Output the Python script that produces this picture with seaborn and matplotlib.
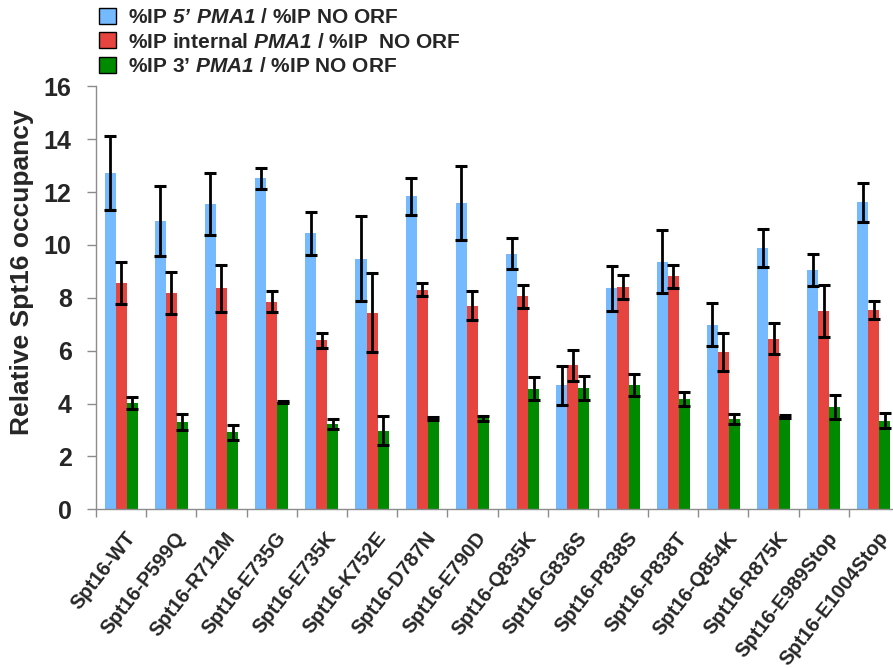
import matplotlib
matplotlib.use("Agg")
import numpy as np
import pandas as pd
import seaborn as sns
import matplotlib.pyplot as plt
import matplotlib.transforms as mtransforms
from matplotlib.patches import Patch

strains = [
    "Spt16-WT", "Spt16-P599Q", "Spt16-R712M", "Spt16-E735G",
    "Spt16-E735K", "Spt16-K752E", "Spt16-D787N", "Spt16-E790D",
    "Spt16-Q835K", "Spt16-G836S", "Spt16-P838S", "Spt16-P838T",
    "Spt16-Q854K", "Spt16-R875K", "Spt16-E989Stop", "Spt16-E1004Stop",
]

five_prime = [12.71, 10.91, 11.56, 12.53, 10.44, 9.48, 11.85, 11.59,
              9.67, 4.69, 8.36, 9.37, 6.99, 9.89, 9.04, 11.61]
five_prime_err = [1.40, 1.33, 1.17, 0.40, 0.80, 1.60, 0.70, 1.40,
                  0.58, 0.73, 0.85, 1.20, 0.82, 0.72, 0.61, 0.73]

internal = [8.55, 8.18, 8.36, 7.86, 6.39, 7.44, 8.31, 7.70,
            8.06, 5.45, 8.42, 8.81, 5.96, 6.46, 7.50, 7.54]
internal_err = [0.79, 0.79, 0.90, 0.40, 0.27, 1.50, 0.25, 0.55,
                0.43, 0.58, 0.45, 0.45, 0.72, 0.58, 0.97, 0.35]

three_prime = [4.01, 3.30, 2.91, 4.06, 3.23, 2.98, 3.44, 3.44,
               4.56, 4.59, 4.70, 4.17, 3.42, 3.52, 3.87, 3.35]
three_prime_err = [0.22, 0.30, 0.27, 0.05, 0.20, 0.55, 0.05, 0.10,
                   0.43, 0.47, 0.43, 0.27, 0.19, 0.05, 0.46, 0.28]

series_labels = [
    "%IP $\\mathsf{5’\\ PMA1}$ / %IP NO ORF",
    "%IP internal $\\mathsf{PMA1}$ / %IP  NO ORF",
    "%IP 3’ $\\mathsf{PMA1}$ / %IP NO ORF",
]
colours = ["#75B9FF", "#E5443F", "#008A00"]


def build_frame():
    rows = []
    for label, vals in zip(series_labels, [five_prime, internal, three_prime]):
        for s, v in zip(strains, vals):
            rows.append({"strain": s, "series": label, "value": v})
    return pd.DataFrame(rows)


if __name__ == "__main__":
    sns.set_style("white")
    plt.rcParams["font.family"] = ["Liberation Sans", "DejaVu Sans"]
    plt.rcParams["font.weight"] = "bold"
    plt.rcParams["axes.labelweight"] = "bold"
    plt.rcParams["mathtext.fontset"] = "custom"
    plt.rcParams["mathtext.rm"] = "Liberation Sans:bold"
    plt.rcParams["mathtext.sf"] = "Liberation Sans:italic:bold"

    data = build_frame()

    fig = plt.figure(figsize=(8.93, 6.68), dpi=100)
    ax = fig.add_axes([96 / 893, 1 - 509.3 / 668, 1 - 96 / 893, (509.3 - 86.4) / 668])

    sns.barplot(
        data=data, x="strain", y="value", hue="series",
        palette=colours, width=0.66, saturation=1, linewidth=0,
        errorbar=None, legend=False, ax=ax,
    )

    errs = [five_prime_err, internal_err, three_prime_err]
    for container, err in zip(ax.containers, errs):
        xs = [p.get_x() + p.get_width() / 2 for p in container]
        ys = [p.get_height() for p in container]
        ax.errorbar(xs, ys, yerr=err, fmt="none", ecolor="black",
                    elinewidth=2, capsize=4.3, capthick=2.2, zorder=5)

    ax.set_ylim(0, 16)
    ax.set_xlim(-0.5, 15.38)
    ax.set_yticks(range(0, 17, 2))
    ax.tick_params(axis="y", labelsize=18, length=6.5, width=1,
                   color="#8c8c8c", direction="out", left=True, pad=11)
    ax.set_xticks(np.arange(16) - 0.5)
    ax.set_xticklabels([""] * 16)
    ax.set_xticks(np.arange(16), minor=True)
    ax.set_xticklabels(strains, minor=True, rotation=52, ha="right",
                       rotation_mode="anchor", fontsize=14.5)
    ax.tick_params(axis="x", which="major", length=6, width=1,
                   color="#8c8c8c", direction="out", bottom=True)
    ax.tick_params(axis="x", which="minor", length=0, pad=14)
    shift = mtransforms.ScaledTranslation(3 / 100, 0, fig.dpi_scale_trans)
    for lab in ax.get_xticklabels(minor=True):
        lab.set_transform(lab.get_transform() + shift)

    ax.set_xlabel("")
    ax.set_ylabel("Relative Spt16 occupancy", fontsize=19)
    ax.yaxis.set_label_coords(-0.078, 0.561)

    for side in ["top", "right"]:
        ax.spines[side].set_visible(False)
    for side in ["left", "bottom"]:
        ax.spines[side].set_color("#8c8c8c")
        ax.spines[side].set_linewidth(1)

    handles = [Patch(facecolor=c, edgecolor="black", linewidth=1) for c in colours]
    fig.legend(handles, series_labels, loc="upper left",
               bbox_to_anchor=(99 / 893, 1 - 8 / 668), frameon=False,
               fontsize=15, handlelength=0.8, handleheight=0.8,
               handletextpad=0.6, labelspacing=0.25, borderpad=0,
               borderaxespad=0)

    fig.savefig("out.png", dpi=100)
